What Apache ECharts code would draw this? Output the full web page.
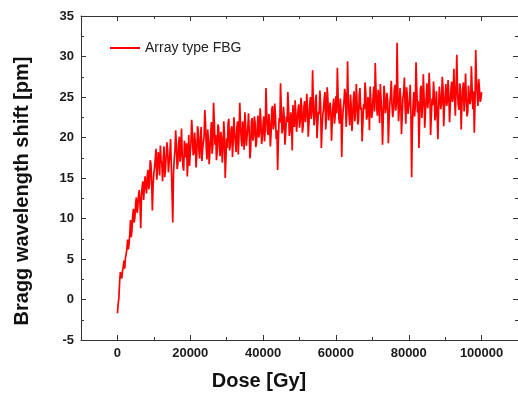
<!DOCTYPE html>
<html>
<head>
<meta charset="utf-8">
<script src="https://cdn.jsdelivr.net/npm/echarts@6/dist/echarts.min.js"></script>
<style>html,body{margin:0;padding:0;background:#fff}#c{width:518px;height:394px}</style>
</head>
<body>
<div id="c"></div>
<script>
// Dose sampling (Gy): first dose and spacing between readings
const doseStart = 0;
const doseStep = 200;
// Bragg wavelength shift [pm] (one value per dose step)
const shiftValues = [
  // 0 - 10000 Gy
  -1.7, -0.6, 0.2, 2.1, 3.4, 2.9, 2.6, 3.5, 4.1, 4.8, 3.8, 5.1, 5.6, 6.3, 7.4, 6.2, 6.9, 8.1, 9.8, 7.7,
  8.6, 10.4, 11.2, 9.5, 10.1, 11.8, 12.6, 10.7, 11.4, 12.9, 13.5, 11.9, 8.8, 12.7, 13.9, 14.6, 12.3, 13.8, 15.2, 14.0,
  13.1, 15.4, 16.0, 13.6, 14.2, 17.2, 16.8, 14.5, 11.0, 14.1, 15.6,
  // 10000 - 20000 Gy
  16.3, 17.4, 18.6, 14.8, 16.0, 18.2, 17.7, 15.3, 19.0, 17.1, 16.8, 14.6, 17.5, 18.9, 15.1, 16.2, 17.9, 19.4, 18.3, 15.7,
  16.9, 18.0, 19.8, 16.6, 13.2, 9.5, 15.6, 17.3, 18.4, 20.9, 18.9, 16.1, 16.7, 19.2, 20.1, 17.0, 18.2, 21.1, 17.8, 16.4,
  15.9, 19.6, 18.8, 17.5, 19.3, 15.2, 17.6, 20.3, 16.5, 18.1,
  // 20000 - 30000 Gy
  19.5, 22.2, 20.4, 17.8, 18.1, 20.6, 19.2, 16.3, 17.9, 21.4, 20.8, 18.2, 17.4, 20.0, 21.3, 17.1, 18.5, 19.4, 20.1, 23.4,
  21.7, 18.6, 17.3, 21.0, 19.6, 16.7, 18.4, 20.2, 21.9, 18.0, 19.0, 24.3, 22.1, 19.1, 20.3, 17.2, 18.3, 21.6, 21.2, 18.8,
  17.7, 20.7, 19.9, 16.9, 18.6, 22.0, 20.5, 15.0, 17.5, 19.9,
  // 30000 - 40000 Gy
  18.7, 21.8, 22.3, 18.4, 19.1, 20.9, 21.4, 17.6, 19.7, 22.5, 20.6, 19.3, 18.2, 21.2, 22.0, 17.9, 20.4, 24.3, 21.6, 19.8,
  18.9, 22.0, 20.8, 18.5, 23.1, 21.5, 19.0, 20.1, 21.1, 23.0, 20.7, 17.4, 18.6, 21.9, 22.4, 19.6, 20.2, 22.6, 21.9, 18.8,
  19.4, 21.3, 22.7, 20.0, 20.5, 23.6, 22.1, 19.2, 20.0, 21.7,
  // 40000 - 50000 Gy
  22.6, 19.5, 21.1, 26.1, 23.0, 20.8, 20.3, 22.9, 21.7, 18.9, 20.6, 23.5, 23.9, 21.0, 21.5, 24.2, 22.8, 19.8, 20.9, 16.0,
  19.7, 22.4, 21.8, 26.7, 23.3, 20.5, 21.0, 23.8, 22.5, 19.1, 20.4, 22.6, 21.9, 25.6, 23.6, 20.2, 20.8, 23.1, 22.2, 18.4,
  24.0, 22.0, 21.3, 24.6, 22.9, 20.7, 20.6, 23.4, 24.1, 21.2,
  // 50000 - 60000 Gy
  22.0, 24.9, 23.8, 20.6, 21.4, 23.7, 24.5, 21.9, 22.7, 25.4, 23.6, 20.1, 21.8, 24.0, 25.0, 22.3, 23.1, 28.3, 24.2, 21.5,
  22.4, 24.6, 25.3, 19.9, 21.6, 23.2, 22.9, 25.8, 24.1, 18.7, 21.2, 22.8, 23.5, 24.9, 25.6, 21.0, 22.6, 26.2, 24.7, 22.1,
  21.9, 24.3, 23.3, 19.6, 22.1, 23.9, 24.8, 21.7, 22.7, 25.1,
  // 60000 - 70000 Gy
  23.0, 28.6, 25.1, 22.4, 21.7, 24.8, 23.4, 17.6, 21.9, 23.5, 24.3, 26.0, 25.4, 21.3, 22.8, 29.4, 24.6, 22.9, 21.5, 25.3,
  23.9, 20.8, 22.3, 24.7, 25.7, 22.0, 23.2, 26.6, 24.4, 21.6, 22.1, 25.2, 26.1, 23.4, 23.7, 19.5, 21.8, 24.1, 23.5, 26.8,
  25.5, 22.2, 22.6, 25.0, 24.2, 20.9, 26.3, 24.5, 22.4, 23.1,
  // 70000 - 80000 Gy
  24.9, 26.3, 23.2, 29.2, 26.0, 23.6, 22.7, 25.9, 24.8, 21.8, 26.6, 24.7, 23.1, 19.1, 22.4, 26.4, 25.3, 23.0, 23.7, 25.5,
  24.6, 19.3, 22.2, 24.2, 25.2, 27.0, 24.0, 22.5, 23.4, 25.8, 26.5, 23.3, 24.1, 31.7, 25.7, 22.0, 23.5, 26.1, 24.8, 20.4,
  22.6, 24.9, 25.5, 27.4, 23.8, 21.7, 26.2, 25.2, 22.9, 23.8,
  // 80000 - 90000 Gy
  24.4, 26.5, 22.8, 15.1, 21.5, 24.0, 25.6, 22.6, 23.9, 29.3, 26.1, 23.1, 24.5, 18.7, 22.3, 25.9, 26.4, 22.4, 24.2, 27.8,
  25.1, 21.2, 23.3, 25.0, 26.7, 23.6, 24.6, 28.0, 25.8, 20.3, 22.7, 24.8, 24.0, 26.9, 25.4, 22.1, 23.0, 25.7, 25.9, 19.8,
  23.6, 26.3, 25.0, 23.5, 24.3, 27.5, 26.2, 21.4, 23.7, 25.2,
  // 90000 - 100000 Gy
  26.6, 23.9, 24.5, 27.1, 25.3, 21.9, 23.8, 26.0, 26.9, 24.4, 25.2, 28.5, 24.7, 22.7, 26.3, 30.2, 25.5, 24.0, 23.4, 26.7,
  25.9, 21.0, 24.2, 25.8, 26.8, 23.2, 25.0, 27.9, 24.8, 22.6, 23.1, 26.4, 26.5, 24.1, 24.6, 28.8, 26.0, 23.5, 25.7, 20.6,
  24.3, 30.8, 27.0, 25.3, 23.9, 27.2, 26.1, 24.4, 24.7, 25.6
];
const xMajorTicks = [0, 20000, 40000, 60000, 80000, 100000];
const xMinorTicks = [10000, 30000, 50000, 70000, 90000];
const seriesName = 'Array type FBG';
const xTitle = 'Dose [Gy]';
const yTitle = 'Bragg wavelength shift [pm]';

const points = shiftValues.map((v, i) => [doseStart + i * doseStep, v]);

const axisColor = '#333';
const labelFont = {color: '#1a1a1a', fontFamily: 'Liberation Sans, Arial, sans-serif', fontWeight: 'bold', fontSize: 13};

function xAx(pos, ticks, len, showLine, showLabel) {
  return {
    type: 'value', position: pos, min: -10000, max: 110000, interval: 10000,
    axisLine: {show: showLine, onZero: false, lineStyle: {color: axisColor, width: 1}},
    axisTick: {show: true, inside: true, length: len, customValues: ticks, lineStyle: {color: axisColor}},
    axisLabel: showLabel ? Object.assign({margin: 7, customValues: xMajorTicks, formatter: v => String(v)}, labelFont) : {show: false},
    splitLine: {show: false}
  };
}
function yAx(pos, showLabel) {
  return {
    type: 'value', position: pos, min: -5, max: 35, interval: 5,
    axisLine: {show: true, onZero: false, lineStyle: {color: axisColor, width: 1}},
    axisTick: {show: true, inside: true, length: 5, lineStyle: {color: axisColor}},
    minorTick: {show: true, splitNumber: 2, length: 3, lineStyle: {color: axisColor}},
    axisLabel: showLabel ? Object.assign({margin: 7}, labelFont) : {show: false},
    splitLine: {show: false}
  };
}

const chart = echarts.init(document.getElementById('c'), null, {renderer: 'canvas'});
chart.setOption({
  backgroundColor: '#fff',
  animation: false,
  grid: {left: 81, top: 16, width: 438, height: 324, containLabel: false},
  legend: {
    data: [{name: seriesName, icon: 'rect'}],
    left: 110, top: 41, itemWidth: 30, itemHeight: 2, padding: 0,
    textStyle: {fontFamily: 'Liberation Sans, Arial, sans-serif', fontSize: 14, color: '#222'}
  },
  xAxis: [
    xAx('bottom', xMajorTicks, 5, true, true),
    xAx('bottom', xMinorTicks, 3, false, false),
    xAx('top', xMajorTicks, 5, true, false),
    xAx('top', xMinorTicks, 3, false, false)
  ],
  yAxis: [yAx('left', true), yAx('right', false)],
  graphic: [
    {type: 'text', left: 'center', top: 371, style: {text: xTitle, font: 'bold 20px Liberation Sans, Arial, sans-serif', fill: '#111'}},
    {type: 'text', x: 22, y: 191, rotation: Math.PI / 2,
     style: {text: yTitle, font: 'bold 20px Liberation Sans, Arial, sans-serif', fill: '#111', align: 'center', verticalAlign: 'middle'}}
  ],
  series: [{
    name: seriesName, type: 'line', xAxisIndex: 0, yAxisIndex: 0,
    data: points, showSymbol: false, symbol: 'none',
    lineStyle: {color: '#ff0000', width: 1.7},
    itemStyle: {color: '#ff0000'}
  }]
});
</script>
</body>
</html>
